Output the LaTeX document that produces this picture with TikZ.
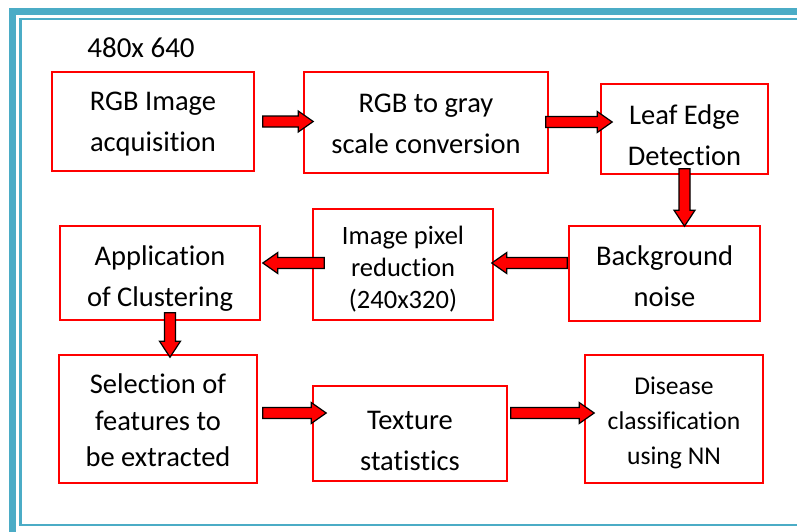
\documentclass[tikz,border=0pt]{standalone}
\usepackage{fontspec}
\setmainfont{Carlito}[Ligatures=NoCommon]
\usetikzlibrary{calc}
\definecolor{frameblue}{HTML}{4BACC6}
\tikzset{
  box/.style={draw=red, line width=1.6pt, inner sep=0pt},
  txt/.style={align=center, inner sep=0pt, font=\fontsize{28.5}{41}\selectfont},
  blk/.style={draw=black, fill=red, line width=1.2pt, line join=miter},
}
\newcommand\harr[2]{\draw[blk] let \p1=(#1), \p2=(#2), \n1={sign(\x2-\x1)} in
  ({\x1},{\y1+5.5pt}) -- ({\x2-\n1*15pt},{\y1+5.5pt}) -- ({\x2-\n1*15pt},{\y1+10.5pt}) -- ({\x2},{\y1})
  -- ({\x2-\n1*15pt},{\y1-10.5pt}) -- ({\x2-\n1*15pt},{\y1-5.5pt}) -- ({\x1},{\y1-5.5pt}) -- cycle;}
\newcommand\varr[2]{\draw[blk] let \p1=(#1), \p2=(#2), \n1={sign(\y2-\y1)} in
  ({\x1+5.5pt},{\y1}) -- ({\x1+5.5pt},{\y2-\n1*16pt}) -- ({\x1+10.5pt},{\y2-\n1*16pt}) -- ({\x1},{\y2})
  -- ({\x1-10.5pt},{\y2-\n1*16pt}) -- ({\x1-5.5pt},{\y2-\n1*16pt}) -- ({\x1-5.5pt},{\y1}) -- cycle;}
\begin{document}
\begin{tikzpicture}[x=1pt,y=-1pt]
\useasboundingbox (0,0) rectangle (797,531);
% frame
\draw[frameblue, line width=7pt] (12,540) -- (12,11) -- (805,11);
\draw[frameblue, line width=2.8pt] (805,19) -- (20.5,19) -- (20.5,525) -- (805,525);
% label
\node[font=\fontsize{29}{34}\selectfont] (res) at (141,48) {480x 640};
% boxes
\node[box, minimum width=202pt, minimum height=99pt] (b1) at (153,121.5) {};
\node[box, minimum width=244pt, minimum height=101pt] (b2) at (426,122.5) {};
\node[box, minimum width=167pt, minimum height=90pt] (b3) at (684.5,129) {};
\node[box, minimum width=191pt, minimum height=95pt] (b4) at (664.5,273.5) {};
\node[box, minimum width=180pt, minimum height=111pt] (b5) at (403,264.5) {};
\node[box, minimum width=200pt, minimum height=94pt] (b6) at (160,273) {};
\node[box, minimum width=198pt, minimum height=128pt] (b7) at (158,419) {};
\node[box, minimum width=194pt, minimum height=95pt] (b8) at (410,433.5) {};
\node[box, minimum width=178pt, minimum height=128pt] (b9) at (674,419) {};
% texts
\node[txt] (t1) at ($(b1)+(0,3)$) {RGB Image\\acquisition};
\node[txt] (t2) at ($(b2)+(0,1.5)$) {RGB to gray\\scale conversion};
\node[txt] (t3) at ($(b3)+(0,6.5)$) {Leaf Edge\\Detection};
\node[txt] (t4) at ($(b4)+(0,3)$) {Background\\noise};
\node[txt, font=\fontsize{26.5}{32}\selectfont] (t5) at ($(b5)+(0,5)$) {Image pixel\\reduction\\(240x320)};
\node[txt] (t6) at ($(b6)+(0,5.5)$) {Application\\of Clustering};
\node[txt, font=\fontsize{28.5}{36.5}\selectfont] (t7) at ($(b7)+(0,1.5)$) {Selection of\\features to\\be extracted};
\node[txt] (t8) at ($(b8)+(0,7)$) {Texture\\statistics};
\node[txt, font=\fontsize{25.6}{35}\selectfont] (t9) at ($(b9)+(0,3.5)$) {Disease\\classification\\using NN};
% arrows
\harr{$(b1.east)+(8,0)$}{$(b2.west)+(10,0)$}
\harr{$(b2.east)+(-3,-0.5)$}{$(b3.west)+(12,0)$}
\varr{$(b3.south)+(0,-6)$}{$(b4.north)+(0,1)$}
\harr{$(b4.west)+(-1,-10.5)$}{$(b5.east)+(-2,0)$}
\harr{$(b5.west)+(12,-1.5)$}{$(b6.east)+(2,0)$}
\varr{$(b6.south)+(10,-8)$}{$(b7.north)+(0,3)$}
\harr{$(b7.east)+(5,-6)$}{$(b8.west)+(14,0)$}
\harr{$(b8.east)+(3,-20.5)$}{$(b9.west)+(10,0)$}
\end{tikzpicture}
\end{document}
